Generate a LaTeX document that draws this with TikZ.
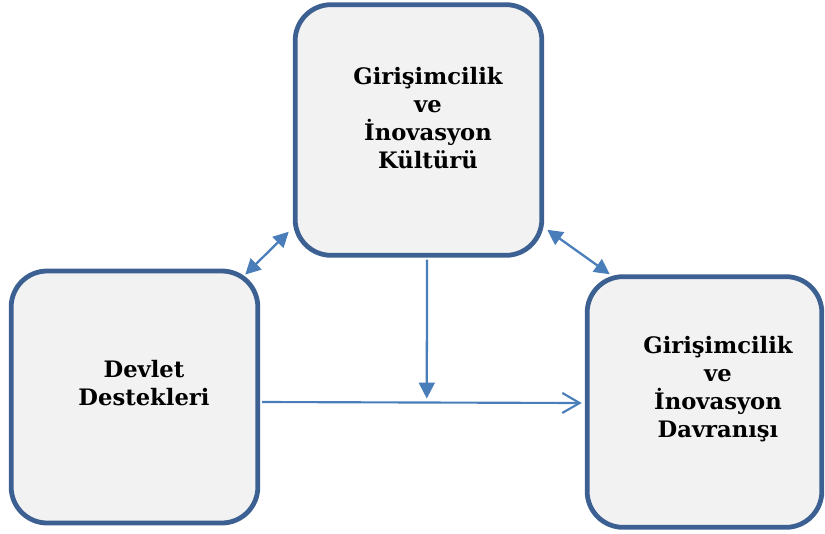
\documentclass[tikz,border=0pt]{standalone}
\usepackage{fontspec}
\setmainfont{DejaVu Serif}
\usetikzlibrary{calc,arrows.meta}
\definecolor{kutucizgi}{RGB}{60,96,145}
\definecolor{kutudolgu}{RGB}{242,242,242}
\definecolor{okrenk}{RGB}{74,126,187}

\begin{document}
\begin{tikzpicture}[x=0.75pt,y=-0.75pt,
    kutu/.style={draw=kutucizgi,fill=kutudolgu,line width=3.6pt,rounded corners=27pt,minimum width=185pt,minimum height=188pt},
    yazi/.style={font=\fontsize{17}{21}\selectfont\bfseries,align=center},
    ok/.style={draw=okrenk,line width=1.7pt,-{Triangle[length=12pt,width=12pt]}},
    ciftok/.style={draw=okrenk,line width=1.7pt,{Triangle[length=11.5pt,width=11.5pt]}-{Triangle[length=11.5pt,width=11.5pt]}},
    acikok/.style={draw=okrenk,line width=1.6pt,-{Straight Barb[length=13pt,width=15pt]}}]

    \useasboundingbox (0,0) rectangle (825,533);

    % kutular
    \node[kutu] (kultur) at (418.5,130) {};
    \node[kutu,minimum height=189pt] (devlet) at (134.5,397) {};
    \node[kutu,minimum width=176pt] (davranis) at (704.5,402) {};

    % yazilar
    \node[yazi] (kulturyazi) at (428,118) {Girişimcilik\\ve\\İnovasyon\\Kültürü};
    \node[yazi] (devletyazi) at (144,383) {Devlet\\Destekleri};
    \node[yazi] (davranisyazi) at (718,389) {Girişimcilik\\ve\\İnovasyon\\Davranışı};

    % oklar
    \draw[ciftok] ($(devlet.north east)+(-15,6)$) -- ($(kultur.south west)+(-4,-26)$);
    \draw[ciftok] ($(kultur.south east)+(3,-28)$) -- ($(davranis.north west)+(25,0)$);
    \coordinate (h1) at ($(devlet.east)+(2,5)$);
    \coordinate (h2) at ($(davranis.west)+(-3,1)$);
    \draw[acikok] (h1) -- (h2);
    \draw[ok] ($(kultur.south)+(8.5,2)$) -- ($(h1)!0.515!(h2)+(0,-4)$);

\end{tikzpicture}
\end{document}
